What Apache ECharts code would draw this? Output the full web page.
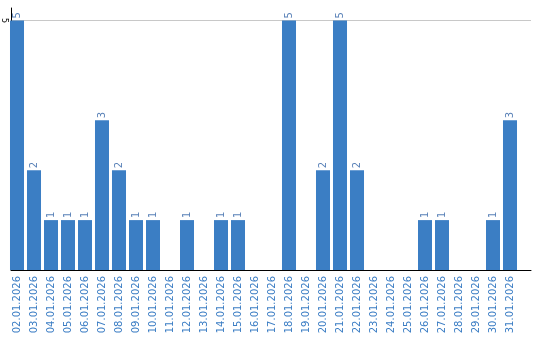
<!DOCTYPE html>
<html><head><meta charset="utf-8">
<script src="https://cdn.jsdelivr.net/npm/echarts@6/dist/echarts.min.js"></script>
<style>html,body{margin:0;padding:0;background:#fff}#c{width:540px;height:340px}</style>
</head><body><div id="c"></div>
<script>
const categories = ["02.01.2026","03.01.2026","04.01.2026","05.01.2026","06.01.2026","07.01.2026","08.01.2026","09.01.2026","10.01.2026","11.01.2026","12.01.2026","13.01.2026","14.01.2026","15.01.2026","16.01.2026","17.01.2026","18.01.2026","19.01.2026","20.01.2026","21.01.2026","22.01.2026","23.01.2026","24.01.2026","25.01.2026","26.01.2026","27.01.2026","28.01.2026","29.01.2026","30.01.2026","31.01.2026"];
const values = [5,2,1,1,1,3,2,1,1,0,1,0,1,1,0,0,5,0,2,5,2,0,0,0,1,1,0,0,1,3];
const yMax = 5.25;
const yInterval = 5;

const chart = echarts.init(document.getElementById('c'), null, {renderer:'canvas'});
chart.setOption({
  animation:false,
  grid:[
    {left:8.5,right:21.5,top:8,bottom:70,containLabel:false},
    {left:10,right:9,top:8,bottom:70,containLabel:false}
  ],
  xAxis:[{
    type:'category', data:categories, gridIndex:0,
    axisLine:{show:false},
    axisTick:{show:false},
    axisLabel:{rotate:90,interval:0,color:'#3b7dc4',fontFamily:'DejaVu Sans',fontSize:10,margin:6}
  },{
    type:'category', data:categories, gridIndex:1,
    axisLine:{show:true,lineStyle:{color:'#000',width:1}},
    axisTick:{show:false},
    axisLabel:{show:false}
  }],
  yAxis:[{
    type:'value', min:0, max:yMax, interval:yInterval, gridIndex:0,
    axisLine:{show:false}, axisTick:{show:false}, splitLine:{show:false}, axisLabel:{show:false}
  },{
    type:'value', min:0, max:yMax, interval:yInterval, gridIndex:1,
    axisLine:{show:true,lineStyle:{color:'#000',width:1}},
    axisTick:{show:false},
    splitLine:{show:true,showMinLine:false,showMaxLine:false,lineStyle:{color:'#c8c8c8',width:1}},
    axisLabel:{show:true,showMinLabel:false,showMaxLabel:false,rotate:-90,color:'#000',fontFamily:'DejaVu Sans',fontSize:8,margin:3}
  }],
  series:[{
    type:'bar', data:values, xAxisIndex:0, yAxisIndex:0, barCategoryGap:'17.6%',
    itemStyle:{color:'#3b7ec4'},
    label:{show:true,position:'top',rotate:90,align:'left',verticalAlign:'middle',distance:2,
      color:'#5a82b8',fontFamily:'DejaVu Sans',fontSize:10,
      formatter:p=>p.value===0?'':String(p.value)}
  }]
});
</script></body></html>
